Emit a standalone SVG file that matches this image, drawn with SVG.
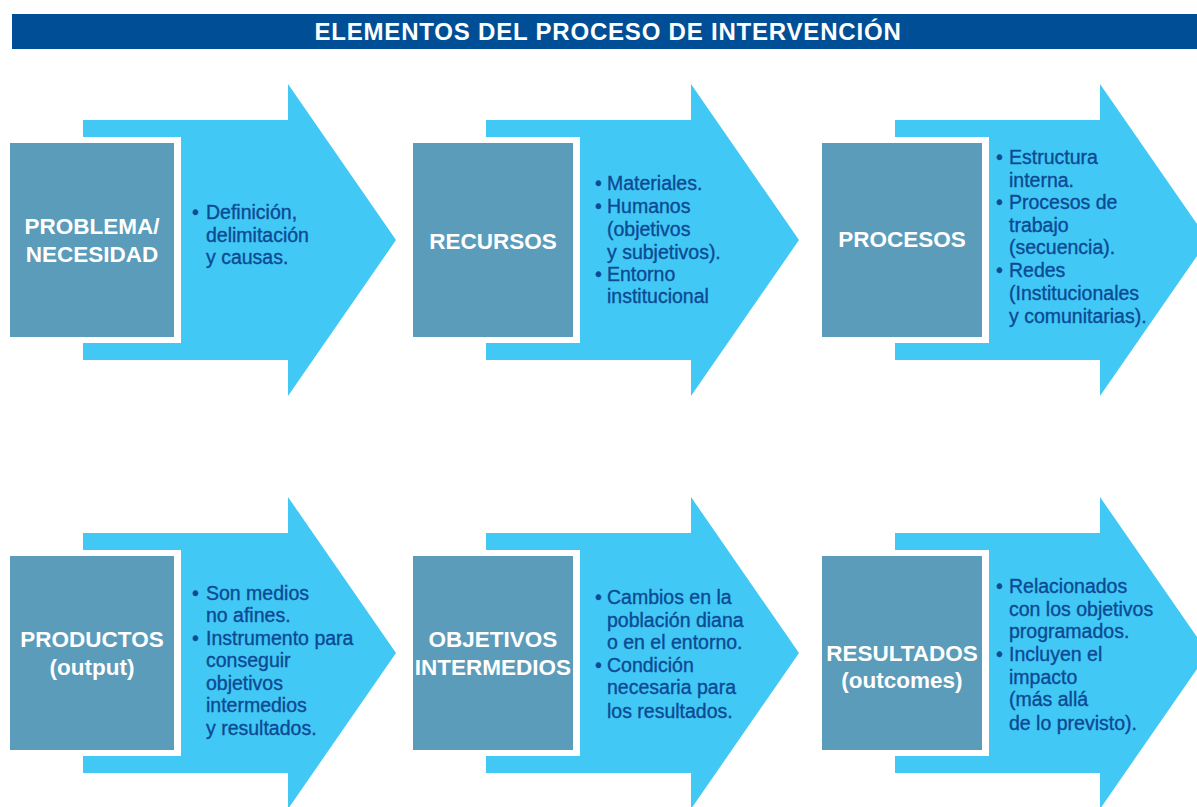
<svg xmlns="http://www.w3.org/2000/svg" width="1197" height="807" viewBox="0 0 1197 807">
<style>
.arrow{fill:#42C8F4}
.gap{fill:#FFFFFF}
.box{fill:#5B9CBA}
.lbl{font-family:"Liberation Sans",Arial,sans-serif;font-weight:bold;font-size:22.5px;fill:#FFFFFF;text-anchor:middle}
.txt{font-family:"Liberation Sans",Arial,sans-serif;font-size:19.5px;fill:#0C4A94;stroke:#0C4A94;stroke-width:0.35}
.title{font-family:"Liberation Sans",Arial,sans-serif;font-weight:bold;font-size:24px;letter-spacing:0.8px;fill:#FFFFFF;text-anchor:middle}
</style>
<rect width="1197" height="807" fill="#FFFFFF"/>
<g id="title">
<rect x="12" y="14" width="1185" height="35" fill="#004F96"/>
<text class="title" x="608" y="40">ELEMENTOS DEL PROCESO DE INTERVENCIÓN</text>
</g>
<g id="connectors"/>
<g id="n1">
<polygon class="arrow" points="83,120 288,120 288,84 396,240 288,396 288,360 83,360"/>
<rect class="gap" x="4" y="137" width="177" height="206"/>
<rect class="box" x="10" y="143" width="164" height="194"/>
<text class="lbl" x="92" y="234">PROBLEMA/</text>
<text class="lbl" x="92" y="262">NECESIDAD</text>
<text class="txt"><tspan x="192" y="219">•</tspan><tspan x="206" y="219">Definición,</tspan><tspan x="206" y="242">delimitación</tspan><tspan x="206" y="264">y causas.</tspan></text>
</g>
<g id="n2">
<polygon class="arrow" points="486,120 691,120 691,84 799,240 691,396 691,360 486,360"/>
<rect class="gap" x="407" y="137" width="173" height="206"/>
<rect class="box" x="413" y="143" width="160" height="194"/>
<text class="lbl" x="493" y="249">RECURSOS</text>
<text class="txt"><tspan x="595" y="190">•</tspan><tspan x="607" y="190">Materiales.</tspan><tspan x="595" y="213">•</tspan><tspan x="607" y="213">Humanos</tspan><tspan x="607" y="236">(objetivos</tspan><tspan x="607" y="259">y subjetivos).</tspan><tspan x="595" y="281">•</tspan><tspan x="607" y="281">Entorno</tspan><tspan x="607" y="303">institucional</tspan></text>
</g>
<g id="n3">
<polygon class="arrow" points="895,120 1100,120 1100,84 1208,240 1100,396 1100,360 895,360"/>
<rect class="gap" x="816" y="137" width="173" height="206"/>
<rect class="box" x="822" y="143" width="160" height="194"/>
<text class="lbl" x="902" y="247">PROCESOS</text>
<text class="txt"><tspan x="996" y="164">•</tspan><tspan x="1009" y="164">Estructura</tspan><tspan x="1009" y="187">interna.</tspan><tspan x="996" y="209">•</tspan><tspan x="1009" y="209">Procesos de</tspan><tspan x="1009" y="232">trabajo</tspan><tspan x="1009" y="254">(secuencia).</tspan><tspan x="996" y="277">•</tspan><tspan x="1009" y="277">Redes</tspan><tspan x="1009" y="300">(Institucionales</tspan><tspan x="1009" y="323">y comunitarias).</tspan></text>
</g>
<g id="n4">
<polygon class="arrow" points="83,533 288,533 288,497 396,653 288,809 288,773 83,773"/>
<rect class="gap" x="4" y="550" width="177" height="206"/>
<rect class="box" x="10" y="556" width="164" height="194"/>
<text class="lbl" x="92" y="647">PRODUCTOS</text>
<text class="lbl" x="92" y="675">(output)</text>
<text class="txt"><tspan x="192" y="600">•</tspan><tspan x="206" y="600">Son medios</tspan><tspan x="206" y="622">no afines.</tspan><tspan x="192" y="645">•</tspan><tspan x="206" y="645">Instrumento para</tspan><tspan x="206" y="667">conseguir</tspan><tspan x="206" y="690">objetivos</tspan><tspan x="206" y="712">intermedios</tspan><tspan x="206" y="735">y resultados.</tspan></text>
</g>
<g id="n5">
<polygon class="arrow" points="486,533 691,533 691,497 799,653 691,809 691,773 486,773"/>
<rect class="gap" x="407" y="550" width="173" height="206"/>
<rect class="box" x="413" y="556" width="160" height="194"/>
<text class="lbl" x="493" y="647">OBJETIVOS</text>
<text class="lbl" x="493" y="675">INTERMEDIOS</text>
<text class="txt"><tspan x="595" y="604">•</tspan><tspan x="607" y="604">Cambios en la</tspan><tspan x="607" y="627">población diana</tspan><tspan x="607" y="649">o en el entorno.</tspan><tspan x="595" y="672">•</tspan><tspan x="607" y="672">Condición</tspan><tspan x="607" y="694">necesaria para</tspan><tspan x="607" y="718">los resultados.</tspan></text>
</g>
<g id="n6">
<polygon class="arrow" points="895,533 1100,533 1100,497 1208,653 1100,809 1100,773 895,773"/>
<rect class="gap" x="816" y="550" width="173" height="206"/>
<rect class="box" x="822" y="556" width="160" height="194"/>
<text class="lbl" x="902" y="661">RESULTADOS</text>
<text class="lbl" x="902" y="688">(outcomes)</text>
<text class="txt"><tspan x="996" y="593">•</tspan><tspan x="1009" y="593">Relacionados</tspan><tspan x="1009" y="616">con los objetivos</tspan><tspan x="1009" y="638">programados.</tspan><tspan x="996" y="661">•</tspan><tspan x="1009" y="661">Incluyen el</tspan><tspan x="1009" y="684">impacto</tspan><tspan x="1009" y="706">(más allá</tspan><tspan x="1009" y="730">de lo previsto).</tspan></text>
</g>
</svg>
